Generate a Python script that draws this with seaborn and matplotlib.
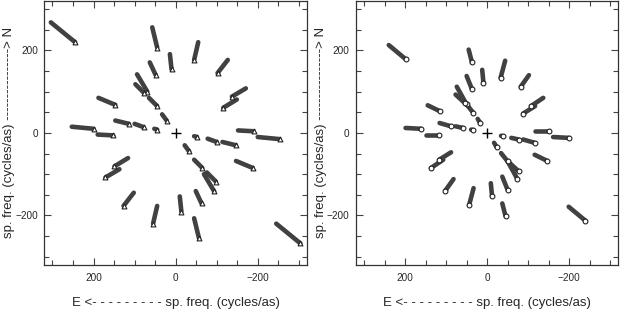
import matplotlib
import matplotlib.pyplot as plt
import pandas as pd
import seaborn as sns
from matplotlib.ticker import MultipleLocator


matplotlib.use("Agg")

# uv tracks for one half plane (cycles/as).
# The other half is the conjugate (-u, -v) of each track.
LEFT_U_START = [304, 57, 14, -55, -127, -171, -149, 188, 253, 190, 147, 100, 52, 33, 65, 94, 98, 63]
LEFT_V_START = [268, 256, 191, 220, 177, 108, 81, 85, 15, -4, 30, 22, 10, 45, 85, 142, 118, 171]
LEFT_U_END = [245, 45, 10, -45, -102, -137, -116, 147, 200, 152, 114, 78, 45, 22, 45, 69, 76, 49]
LEFT_V_END = [220, 207, 154, 177, 145, 88, 61, 68, 10, -6, 22, 14, 8, 30, 65, 100, 96, 141]

RIGHT_U_START = [240, 45, 12, -44, -102, -137, -117, 145, 199, 150, 116, 77, 39, 23, 50, 74, 77, 50]
RIGHT_V_START = [213, 202, 153, 175, 140, 85, 65, 67, 12, -4, 24, 16, 8, 34, 69, 112, 93, 138]
RIGHT_U_END = [199, 37, 9, -33, -82, -107, -88, 116, 161, 118, 88, 59, 34, 17, 34, 50, 55, 37]
RIGHT_V_END = [179, 171, 122, 134, 112, 65, 47, 53, 10, -4, 16, 12, 7, 24, 49, 69, 73, 106]

CENTER_U = [0]
CENTER_V = [0]

X_LABEL = "E <- - - - - - - - - sp. freq. (cycles/as)"
Y_LABEL = "sp. freq. (cycles/as) ----------------> N"


def build_tracks(u0, v0, u1, v1):
    rows = []
    ends = []
    for i in range(len(u0)):
        rows.append({"track": f"{i}", "u": u0[i], "v": v0[i]})
        rows.append({"track": f"{i}", "u": u1[i], "v": v1[i]})
        rows.append({"track": f"{i}c", "u": -u0[i], "v": -v0[i]})
        rows.append({"track": f"{i}c", "u": -u1[i], "v": -v1[i]})
        ends.append({"u": u1[i], "v": v1[i]})
        ends.append({"u": -u0[i], "v": -v0[i]})
    return pd.DataFrame(rows), pd.DataFrame(ends)


def draw_panel(ax, track_df, end_df, marker):
    sns.lineplot(
        data=track_df, x="u", y="v", units="track", estimator=None, sort=False,
        color="#414141", linewidth=3.3, solid_capstyle="round", ax=ax, legend=False,
    )
    sns.scatterplot(
        data=end_df, x="u", y="v", marker=marker, s=12, facecolor="white",
        edgecolor="#222222", linewidth=0.8, ax=ax, legend=False, zorder=3,
    )
    sns.scatterplot(
        x=CENTER_U, y=CENTER_V, marker="+", s=60, color="black",
        linewidth=1.0, ax=ax, legend=False, zorder=4,
    )
    ax.set_xlim(320, -320)
    ax.set_ylim(-320, 320)
    ax.xaxis.set_major_locator(MultipleLocator(200))
    ax.xaxis.set_minor_locator(MultipleLocator(50))
    ax.yaxis.set_major_locator(MultipleLocator(200))
    ax.yaxis.set_minor_locator(MultipleLocator(50))
    ax.tick_params(which="both", direction="in", top=True, right=True,
                   color="#444444", width=0.8, labelsize=7.2, pad=6)
    ax.tick_params(axis="y", pad=4.5)
    ax.tick_params(which="major", length=5)
    ax.tick_params(which="minor", length=3.5)
    for spine in ax.spines.values():
        spine.set_color("#333333")
        spine.set_linewidth(0.9)
    ax.set_xlabel(X_LABEL, fontsize=9.5, labelpad=10)
    ax.set_ylabel(Y_LABEL, fontsize=9.5)
    ax.yaxis.set_label_coords(-0.112, 0.5)


sns.set_theme(style="ticks")
plt.rcParams["font.family"] = ["Liberation Sans", "DejaVu Sans"]

left_tracks, left_ends = build_tracks(LEFT_U_START, LEFT_V_START, LEFT_U_END, LEFT_V_END)
right_tracks, right_ends = build_tracks(RIGHT_U_START, RIGHT_V_START, RIGHT_U_END, RIGHT_V_END)

fig = plt.figure(figsize=(6.22, 3.12), dpi=100)
ax_left = fig.add_axes([0.0712, 0.151, 0.4224, 0.846])
ax_right = fig.add_axes([0.5723, 0.151, 0.4217, 0.846])

draw_panel(ax_left, left_tracks, left_ends, "^")
draw_panel(ax_right, right_tracks, right_ends, "o")

fig.savefig("out.png", dpi=100)
plt.close(fig)
